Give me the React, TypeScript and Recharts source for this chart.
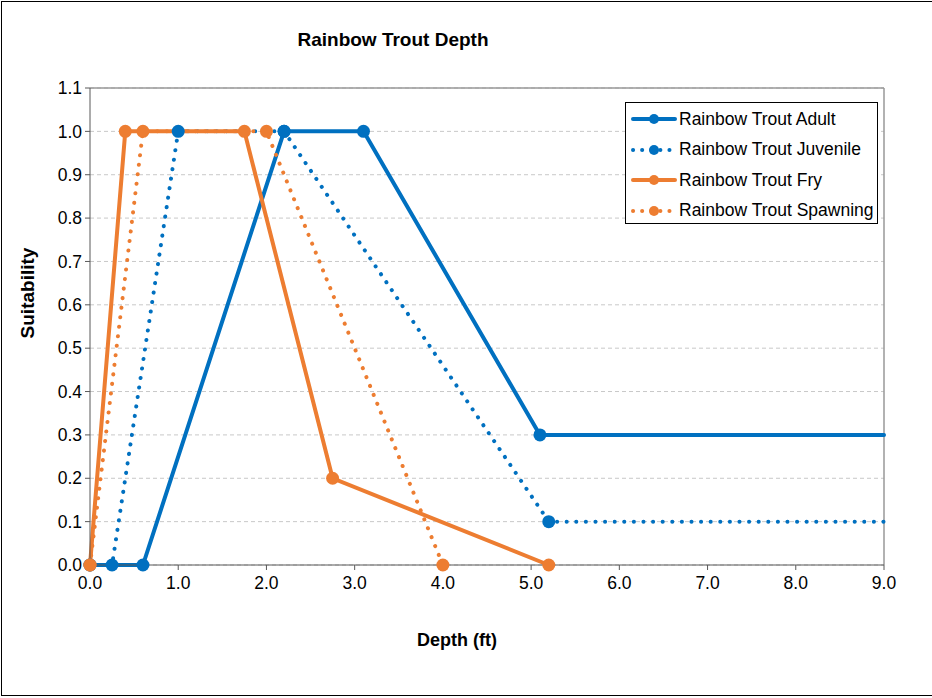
import React from "react";
import {
  LineChart,
  Line,
  XAxis,
  YAxis,
  CartesianGrid,
  ReferenceLine
} from "recharts";

const adult = [
  { x: 0, y: 0 },
  { x: 0.6, y: 0 },
  { x: 2.2, y: 1.0 },
  { x: 3.1, y: 1.0 },
  { x: 5.1, y: 0.3 },
  { x: 9.0, y: 0.3 }
];
const juvenile = [
  { x: 0, y: 0 },
  { x: 0.25, y: 0 },
  { x: 1.0, y: 1.0 },
  { x: 2.2, y: 1.0 },
  { x: 5.2, y: 0.1 },
  { x: 9.0, y: 0.1 }
];
const fry = [
  { x: 0, y: 0 },
  { x: 0.4, y: 1.0 },
  { x: 1.75, y: 1.0 },
  { x: 2.75, y: 0.2 },
  { x: 5.2, y: 0 }
];
const spawning = [
  { x: 0, y: 0 },
  { x: 0.6, y: 1.0 },
  { x: 2.0, y: 1.0 },
  { x: 4.0, y: 0 }
];

const xTicks = [0, 1, 2, 3, 4, 5, 6, 7, 8, 9];
const yTicks = [0, 0.1, 0.2, 0.3, 0.4, 0.5, 0.6, 0.7, 0.8, 0.9, 1.0, 1.1];

const BLUE = "#0070C0";
const ORANGE = "#ED7D31";
const FONT = "'Liberation Sans', Arial, sans-serif";
const DOTTED = "0.1 9.5";

const series = [
  { name: "Rainbow Trout Adult", data: adult, color: BLUE, dotted: false },
  { name: "Rainbow Trout Juvenile", data: juvenile, color: BLUE, dotted: true },
  { name: "Rainbow Trout Fry", data: fry, color: ORANGE, dotted: false },
  { name: "Rainbow Trout Spawning", data: spawning, color: ORANGE, dotted: true }
];

// no marker on the point that runs off to the right edge
const makeDot = (color: string) => (props: any) => {
  const { cx, cy, index, payload } = props;
  if (payload.x >= 9) return <g key={`d${index}`} />;
  return <circle key={`d${index}`} cx={cx} cy={cy} r={6.5} fill={color} stroke="none" />;
};

function LegendBox() {
  return (
    <div
      style={{
        position: "absolute",
        left: 625,
        top: 102,
        border: "1px solid #000",
        background: "#fff",
        width: 253,
        height: 122,
        boxSizing: "border-box",
        padding: "1px 0 0 5px",
        fontFamily: FONT,
        fontSize: 17.5,
        color: "#000"
      }}
    >
      {series.map((s) => (
        <div key={s.name} style={{ display: "flex", alignItems: "center", height: 30.5 }}>
          <svg width={46} height={14} style={{ marginRight: 2 }}>
            <line
              x1={2}
              y1={7}
              x2={44}
              y2={7}
              stroke={s.color}
              strokeWidth={4}
              strokeLinecap="round"
              strokeDasharray={s.dotted ? "0.1 9" : undefined}
            />
            <circle cx={23} cy={7} r={5} fill={s.color} />
          </svg>
          <span>{s.name}</span>
        </div>
      ))}
    </div>
  );
}

export default function App() {
  return (
    <div
      style={{
        position: "absolute",
        left: 0,
        top: 0,
        width: 932,
        height: 698,
        overflow: "hidden",
        background: "#fff",
        fontFamily: FONT
      }}
    >
      <div
        style={{
          position: "absolute",
          left: 1,
          top: 1,
          width: 940,
          height: 695,
          border: "1px solid #000",
          boxSizing: "border-box"
        }}
      />
      <div
        style={{
          position: "absolute",
          left: 243,
          width: 300,
          top: 29,
          textAlign: "center",
          fontWeight: "bold",
          fontSize: 19
        }}
      >
        Rainbow Trout Depth
      </div>
      <div
        style={{
          position: "absolute",
          left: 357,
          width: 200,
          top: 630,
          textAlign: "center",
          fontWeight: "bold",
          fontSize: 18
        }}
      >
        Depth (ft)
      </div>
      <div
        style={{
          position: "absolute",
          left: 28 - 60,
          top: 293 - 11,
          width: 120,
          height: 22,
          lineHeight: "22px",
          textAlign: "center",
          fontWeight: "bold",
          fontSize: 19,
          transform: "rotate(-90deg)"
        }}
      >
        Suitability
      </div>
      <LineChart
        width={932}
        height={698}
        margin={{ top: 88, right: 48, bottom: 103, left: 0 }}
        style={{ position: "absolute", left: 0, top: 0 }}
      >
        <CartesianGrid
          horizontal
          vertical={false}
          stroke="#c8c8c8"
          strokeDasharray="4 3"
        />
        <XAxis
          type="number"
          dataKey="x"
          domain={[0, 9]}
          ticks={xTicks}
          tickFormatter={(v: number) => v.toFixed(1)}
          height={30}
          tickSize={5}
          tickMargin={7}
          stroke="#595959"
          tick={{ fill: "#000", fontSize: 17.5, fontFamily: FONT }}
        />
        <YAxis
          type="number"
          dataKey="y"
          domain={[0, 1.1]}
          ticks={yTicks}
          tickFormatter={(v: number) => v.toFixed(1)}
          width={90}
          tickSize={5}
          tickMargin={3}
          stroke="#595959"
          tick={{ fill: "#000", fontSize: 17.5, fontFamily: FONT }}
        />
        <ReferenceLine y={1.1} stroke="#999" strokeWidth={1.5} />
        <ReferenceLine x={9} stroke="#999" strokeWidth={1.5} />
        {series.map((s) => (
          <Line
            key={s.name}
            data={s.data}
            dataKey="y"
            name={s.name}
            type="linear"
            stroke={s.color}
            strokeWidth={4}
            strokeLinecap="round"
            strokeDasharray={s.dotted ? DOTTED : undefined}
            dot={makeDot(s.color)}
            activeDot={false}
            isAnimationActive={false}
          />
        ))}
      </LineChart>
      <LegendBox />
    </div>
  );
}
